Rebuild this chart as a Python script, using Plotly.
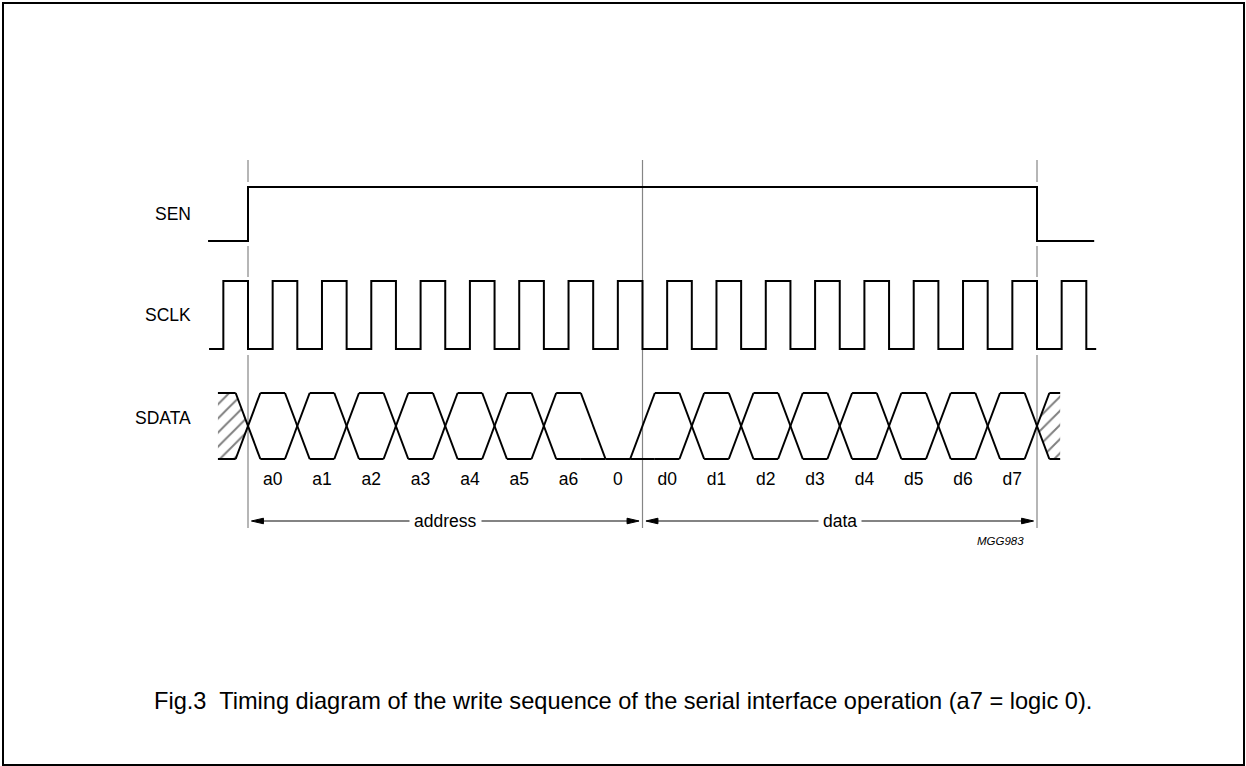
import plotly.graph_objects as go

# ---------------- data (time in bit periods, levels logic 0/1) ----------------
signal_names = ["SEN", "SCLK", "SDATA"]

sen_edges_t = [-0.81, 0.0, 16.0, 17.16]      # start, rise, fall, end
sen_levels = [0, 1, 0, 0]

sclk_start_t = -0.79
sclk_end_t = 17.2
sclk_rise_t = [-0.5, 0.5, 1.5, 2.5, 3.5, 4.5, 5.5, 6.5, 7.5, 8.5,
               9.5, 10.5, 11.5, 12.5, 13.5, 14.5, 15.5, 16.5]
sclk_fall_t = [0, 1, 2, 3, 4, 5, 6, 7, 8, 9,
               10, 11, 12, 13, 14, 15, 16, 17]

bit_labels = ["a0", "a1", "a2", "a3", "a4", "a5", "a6", "0",
              "d0", "d1", "d2", "d3", "d4", "d5", "d6", "d7"]
bit_edges_t = [0, 1, 2, 3, 4, 5, 6, 7, 8, 9, 10, 11, 12, 13, 14, 15, 16]
bit_kind = ["X", "X", "X", "X", "X", "X", "X", "0",
            "X", "X", "X", "X", "X", "X", "X", "X"]   # X = data bit, 0 = fixed low
hatch_start_t = -0.61
hatch_end_t = 16.47

frame_marks_t = [0, 8, 16]
field_names = ["address", "data"]
field_start_t = [0, 8]
field_end_t = [8, 16]

figure_code = "MGG983"
caption = "Fig.3\u00a0 Timing diagram of the write sequence of the serial interface operation (a7 = logic 0)."

# ---------------- style / layout constants ----------------
W, H = 1246, 766
X0_PX = 248.0
BIT_PX = 49.3125
ROW = {"SEN": (187, 241), "SCLK": (281, 349), "SDATA": (393, 459)}   # (high, low) px
LABEL_Y = {"SEN": 214, "SCLK": 315, "SDATA": 418}
T = 0.25           # half transition width (bit periods)
FONT = "Liberation Sans, Arial, Helvetica, sans-serif"
SIG_W = 2
GRAY = "#858585"


def lvl(row, level):
    hi, lo = ROW[row]
    return lo - level * (lo - hi)


fig = go.Figure()

# vertical reference marks
mx, my = [], []
dash_segments = [(160, 182), (246, 277), (355, 528)]
for t in frame_marks_t:
    if t == frame_marks_t[1]:
        mx += [t, t, None]
        my += [160, 528, None]
    else:
        for a, b in dash_segments:
            mx += [t, t, None]
            my += [a, b, None]
fig.add_trace(go.Scatter(x=mx, y=my, mode="lines",
                         line=dict(color=GRAY, width=1.2), hoverinfo="skip"))

# SEN
fig.add_trace(go.Scatter(x=sen_edges_t, y=[lvl("SEN", l) for l in sen_levels],
                         mode="lines", line=dict(color="black", width=SIG_W, shape="hv"),
                         hoverinfo="skip"))

# SCLK
cx, cy = [sclk_start_t], [lvl("SCLK", 0)]
for r, f in zip(sclk_rise_t, sclk_fall_t):
    cx += [r, f]
    cy += [lvl("SCLK", 1), lvl("SCLK", 0)]
cx.append(sclk_end_t)
cy.append(lvl("SCLK", 0))
fig.add_trace(go.Scatter(x=cx, y=cy, mode="lines",
                         line=dict(color="black", width=SIG_W, shape="hv"),
                         hoverinfo="skip"))

# SDATA segments
segs = [(hatch_start_t, bit_edges_t[0], (0, 1))]
for i, k in enumerate(bit_kind):
    segs.append((bit_edges_t[i], bit_edges_t[i + 1], (0, 1) if k == "X" else (0,)))
segs.append((bit_edges_t[-1], hatch_end_t, (0, 1)))

mid = (lvl("SDATA", 0) + lvl("SDATA", 1)) / 2

# hatched don't-care areas
hx = [hatch_start_t, bit_edges_t[0] - T, bit_edges_t[0], bit_edges_t[0] - T, hatch_start_t, None,
      bit_edges_t[-1], bit_edges_t[-1] + T, hatch_end_t, hatch_end_t, bit_edges_t[-1] + T]
hy = [lvl("SDATA", 1), lvl("SDATA", 1), mid, lvl("SDATA", 0), lvl("SDATA", 0), None,
      mid, lvl("SDATA", 1), lvl("SDATA", 1), lvl("SDATA", 0), lvl("SDATA", 0)]
fig.add_trace(go.Scatter(x=hx, y=hy, mode="none", fill="toself", fillcolor="white",
                         fillpattern=dict(shape="/", size=10, solidity=0.2,
                                          fgcolor="black", bgcolor="white"),
                         hoverinfo="skip"))

dx, dy = [], []
for k, (s, e, lv) in enumerate(segs):
    fs = s if k == 0 else s + T
    fe = e if k == len(segs) - 1 else e - T
    for l in lv:
        dx += [fs, fe, None]
        dy += [lvl("SDATA", l), lvl("SDATA", l), None]
for k in range(len(segs) - 1):
    b = segs[k][1]
    A, B = segs[k][2], segs[k + 1][2]
    if len(A) == 2 and len(B) == 2:
        pairs = [(1, 0), (0, 1)]
    else:
        pairs = [(a, c) for a in A for c in B]
    for a, c in pairs:
        dx += [b - T, b + T, None]
        dy += [lvl("SDATA", a), lvl("SDATA", c), None]
fig.add_trace(go.Scatter(x=dx, y=dy, mode="lines",
                         line=dict(color="black", width=SIG_W), hoverinfo="skip"))

# bit labels
fig.add_trace(go.Scatter(
    x=[(bit_edges_t[i] + bit_edges_t[i + 1]) / 2 for i in range(len(bit_labels))],
    y=[481] * len(bit_labels), mode="text", text=bit_labels,
    textfont=dict(family=FONT, size=17.5, color="black"), hoverinfo="skip"))

# field arrows
ARROW_Y = 521
GAP = 0.07
HEAD_L = 12 / BIT_PX
HEAD_H = 2.8
ax, ay = [], []
tx, ty = [], []
for s, e in zip(field_start_t, field_end_t):
    a, b = s + GAP, e - GAP
    ax += [a + HEAD_L * 0.8, b - HEAD_L * 0.8, None]
    ay += [ARROW_Y, ARROW_Y, None]
    tx += [a, a + HEAD_L, a + HEAD_L, a, None, b, b - HEAD_L, b - HEAD_L, b, None]
    ty += [ARROW_Y, ARROW_Y - HEAD_H, ARROW_Y + HEAD_H, ARROW_Y, None,
           ARROW_Y, ARROW_Y - HEAD_H, ARROW_Y + HEAD_H, ARROW_Y, None]
fig.add_trace(go.Scatter(x=ax, y=ay, mode="lines",
                         line=dict(color="#5a5a5a", width=1.5), hoverinfo="skip"))
fig.add_trace(go.Scatter(x=tx, y=ty, mode="lines", fill="toself", fillcolor="black",
                         line=dict(color="black", width=1), hoverinfo="skip"))

annotations = []
for name, s, e in zip(field_names, field_start_t, field_end_t):
    annotations.append(dict(x=(s + e) / 2, y=ARROW_Y, xref="x", yref="y", text=name,
                            showarrow=False, bgcolor="white", borderpad=4,
                            font=dict(family=FONT, size=17.5, color="black")))
for name in signal_names:
    annotations.append(dict(x=193 / W, xref="paper", xanchor="right", y=LABEL_Y[name],
                            yref="y", text=name, showarrow=False,
                            font=dict(family=FONT, size=17.5, color="black")))
annotations.append(dict(x=1026 / W, xref="paper", xanchor="right", y=541, yref="y",
                        text="<i>" + figure_code + "</i>", showarrow=False,
                        font=dict(family=FONT, size=11.5, color="black")))
annotations.append(dict(x=152 / W, xref="paper", xanchor="left", y=701, yref="y",
                        text=caption, showarrow=False,
                        font=dict(family=FONT, size=23.6, color="black")))

fig.update_layout(
    width=W, height=H, margin=dict(l=0, r=0, t=0, b=0),
    paper_bgcolor="white", plot_bgcolor="white", showlegend=False,
    xaxis=dict(range=[-X0_PX / BIT_PX, (W - X0_PX) / BIT_PX], visible=False, fixedrange=True),
    yaxis=dict(range=[H, 0], visible=False, fixedrange=True),
    annotations=annotations,
    shapes=[dict(type="rect", xref="paper", yref="paper",
                 x0=3 / W, x1=1244 / W, y0=1 - 765 / H, y1=1 - 3 / H,
                 line=dict(color="black", width=2), fillcolor="rgba(0,0,0,0)")],
)

fig.write_html(
    "out.html",
    config={"displayModeBar": False},
    post_script="document.body.style.margin='0px';document.documentElement.style.overflow='hidden';",
)
